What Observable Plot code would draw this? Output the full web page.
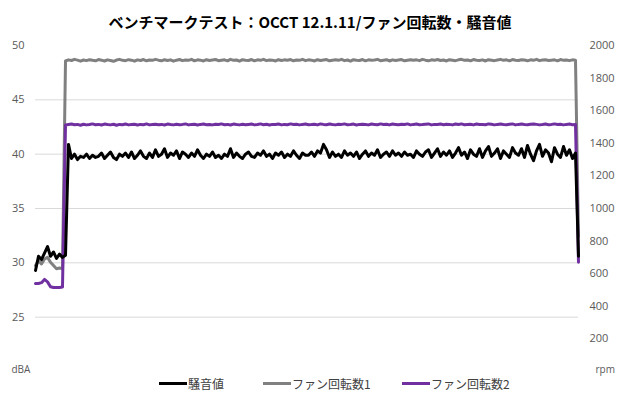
<!DOCTYPE html>
<html><head><meta charset="utf-8">
<script src="https://cdn.jsdelivr.net/npm/d3@7"></script>
<script src="https://cdn.jsdelivr.net/npm/@observablehq/plot@0.6"></script>
<style>
body{margin:0;background:#fff;}
#wrap{position:relative;width:620px;height:400px;overflow:hidden;background:#fff;}
#title{position:absolute;top:12px;left:0;width:620px;text-align:center;font:bold 15px "Noto Sans CJK JP",sans-serif;color:#000;line-height:20px;}
#chart{position:absolute;top:35px;left:0;}
.lg{position:absolute;top:376px;height:14px;display:flex;align-items:center;font:12px "Noto Sans CJK JP",sans-serif;color:#404040;white-space:nowrap;}
.sw{display:inline-block;width:28px;height:3px;margin-right:1px;}
</style></head>
<body>
<div id="wrap">
  <div id="title"></div>
  <div id="chart"></div>
  <div id="legend"></div>
</div>
<script>
const titleText = "ベンチマークテスト：OCCT 12.1.11/ファン回転数・騒音値";
const seriesNames = ["騒音値", "ファン回転数1", "ファン回転数2"];
const seriesColors = ["#000000", "#808080", "#7030a0"];
const dbTicks = [25, 30, 35, 40, 45, 50];
const gridDb = [25, 30, 35, 40, 45];
const rpmTicks = [200, 400, 600, 800, 1000, 1200, 1400, 1600, 1800, 2000];
const dbLabel = "dBA";
const rpmLabel = "rpm";

// 騒音値 (dBA)
const noise = [
  29.3,30.6,30.3,30.9,31.5,30.6,31.0,30.4,30.8,30.5,30.7,
  40.9,39.6,40.0,39.5,39.8,39.7,40.0,39.6,39.9,39.7,
  39.8,40.1,39.6,39.9,40.2,39.7,39.5,40.0,39.8,40.1,
  39.7,40.2,39.6,39.9,40.3,39.8,39.6,40.1,39.7,40.4,
  39.8,40.0,40.5,39.7,40.1,39.9,40.3,39.6,40.2,40.0,
  39.7,40.1,39.8,40.4,39.9,39.6,40.0,39.8,40.2,39.7,
  39.9,39.6,40.0,39.8,40.5,39.7,40.1,39.8,39.6,40.0,
  40.2,39.8,39.7,40.1,39.9,40.3,39.8,40.0,39.6,40.1,
  39.9,40.2,39.7,40.0,39.8,40.3,39.9,39.6,40.1,39.9,
  39.9,40.2,39.8,40.3,40.1,40.9,40.4,39.7,40.2,39.8,
  40.0,39.7,40.3,39.9,40.1,39.8,40.2,39.6,40.0,40.3,
  39.8,40.1,39.9,40.4,39.7,40.0,40.2,39.8,40.3,39.9,
  40.1,39.8,40.2,39.9,40.0,39.7,40.3,40.0,39.8,40.2,
  40.4,39.7,40.1,40.5,39.8,40.2,39.9,40.3,39.7,40.1,
  40.6,39.9,40.2,39.6,40.4,40.0,39.8,40.5,39.7,40.3,
  40.7,39.8,40.1,40.5,39.6,40.3,40.0,39.7,40.6,40.1,
  39.9,40.5,39.7,40.8,40.0,39.4,40.3,40.9,39.8,40.4,
  40.1,39.3,40.6,40.0,39.7,40.7,39.9,40.4,39.6,40.1,
  30.6
];

// ファン回転数1 (rpm)
const fan1 = [
  650,680,660,690,700,670,650,630,635,630,
  1905,1912,1908,1915,1910,1904,1911,1907,1913,1909,
  1906,1914,1910,1905,1912,1908,1903,1911,1915,1909,
  1907,1913,1910,1904,1912,1908,1914,1906,1911,1909,
  1915,1910,1906,1913,1908,1912,1904,1910,1914,1907,
  1911,1909,1915,1906,1912,1910,1905,1913,1908,1911,
  1914,1907,1910,1912,1906,1915,1909,1911,1904,1913,
  1910,1908,1914,1906,1912,1909,1915,1907,1911,1910,
  1905,1913,1908,1912,1910,1914,1906,1911,1909,1915,
  1907,1912,1910,1905,1913,1908,1911,1914,1906,1910,
  1912,1909,1915,1907,1911,1904,1913,1910,1908,1914,
  1906,1912,1909,1911,1915,1907,1910,1913,1905,1912,
  1908,1911,1914,1906,1910,1913,1909,1912,1907,1915,
  1910,1906,1912,1909,1914,1908,1911,1905,1913,1910,
  1907,1912,1915,1909,1911,1906,1914,1910,1908,1912,
  1905,1913,1910,1907,1911,1915,1909,1912,1906,1914,
  1910,1908,1913,1911,1906,1912,1909,1915,1907,1911,
  1913,1908,1910,1912,1906,1914,1909,1911,1907,1912,
  1910,
  830
];

// ファン回転数2 (rpm)
const fan2 = [
  540,540,545,565,550,520,515,515,515,518,
  1512,1515,1518,1514,1516,1511,1517,1513,1515,1519,
  1514,1516,1512,1518,1515,1513,1517,1511,1516,1514,
  1518,1513,1515,1517,1512,1516,1514,1519,1513,1515,
  1517,1514,1516,1512,1518,1515,1513,1517,1514,1516,
  1519,1513,1515,1517,1512,1516,1518,1514,1515,1513,
  1517,1515,1519,1514,1516,1512,1518,1515,1513,1517,
  1514,1516,1518,1513,1515,1519,1514,1517,1512,1516,
  1515,1518,1513,1516,1514,1519,1515,1517,1513,1516,
  1518,1514,1515,1517,1513,1519,1516,1514,1518,1515,
  1513,1517,1516,1519,1514,1515,1518,1512,1516,1517,
  1515,1513,1518,1516,1514,1519,1515,1517,1513,1518,
  1516,1514,1517,1515,1519,1513,1516,1518,1514,1515,
  1517,1519,1513,1516,1515,1518,1514,1517,1516,1513,
  1518,1515,1519,1514,1516,1517,1513,1518,1515,1516,
  1514,1519,1517,1513,1516,1518,1515,1514,1517,1519,
  1513,1516,1518,1515,1514,1517,1519,1516,1513,1515,
  1518,1514,1516,1519,1515,1517,1513,1516,1518,1514,
  1515,
  670
];

const dbMin = 20, dbMax = 50, rpmMax = 2000;
const toDb = r => dbMin + r * (dbMax - dbMin) / rpmMax;
const toRpm = d => Math.round((d - dbMin) * rpmMax / (dbMax - dbMin));

document.getElementById("title").textContent = titleText;

const chart = Plot.plot({
  width: 620,
  height: 345,
  marginTop: 10,
  marginBottom: 9,
  marginLeft: 35,
  marginRight: 42,
  x: {domain: [0, noise.length - 1], axis: null},
  y: {domain: [dbMin, dbMax], axis: null},
  style: {fontFamily: "'Open Sans', sans-serif", fontSize: "11px", color: "#595959", background: "transparent"},
  marks: [
    Plot.ruleY(gridDb, {stroke: "#d9d9d9", strokeWidth: 1}),
    Plot.axisY(dbTicks, {anchor: "left", tickSize: 0, tickPadding: 11, tickFormat: d => String(d), fill: "#595959"}),
    Plot.axisY(rpmTicks.map(toDb), {anchor: "right", tickSize: 0, tickPadding: 11, tickFormat: d => String(toRpm(d)), fill: "#595959"}),
    Plot.text([dbLabel], {text: d => d, frameAnchor: "bottom-left", dx: -24, dy: 1, textAnchor: "start", fill: "#595959", fontSize: 10}),
    Plot.text([rpmLabel], {text: d => d, frameAnchor: "bottom-right", dx: 17, dy: 1, textAnchor: "start", fill: "#595959", fontSize: 10}),
    Plot.line(fan1, {x: (d, i) => i, y: d => toDb(d), stroke: seriesColors[1], strokeWidth: 3}),
    Plot.line(fan2, {x: (d, i) => i, y: d => toDb(d), stroke: seriesColors[2], strokeWidth: 3}),
    Plot.line(noise, {x: (d, i) => i, y: d => d, stroke: seriesColors[0], strokeWidth: 3})
  ]
});
document.getElementById("chart").appendChild(chart);

const legendLefts = [159, 263, 402];
const legend = document.getElementById("legend");
seriesNames.forEach((name, k) => {
  const item = document.createElement("div");
  item.className = "lg";
  item.style.left = legendLefts[k] + "px";
  const sw = document.createElement("span");
  sw.className = "sw";
  sw.style.background = seriesColors[k];
  item.appendChild(sw);
  item.appendChild(document.createTextNode(name));
  legend.appendChild(item);
});
</script>
</body></html>
